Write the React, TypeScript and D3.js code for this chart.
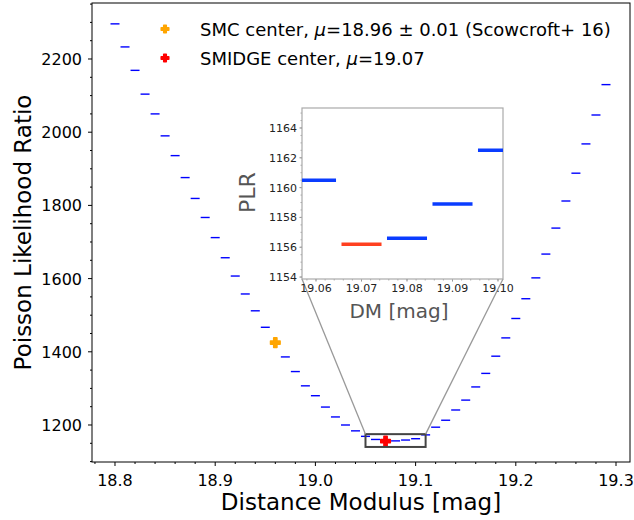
import React from 'react';
import * as d3 from 'd3';

// ---- data ----
const dmValues = [
  18.80, 18.81, 18.82, 18.83, 18.84, 18.85, 18.86, 18.87, 18.88, 18.89,
  18.90, 18.91, 18.92, 18.93, 18.94, 18.95, 18.96, 18.97, 18.98, 18.99,
  19.00, 19.01, 19.02, 19.03, 19.04, 19.05, 19.06, 19.07, 19.08, 19.09,
  19.10, 19.11, 19.12, 19.13, 19.14, 19.15, 19.16, 19.17, 19.18, 19.19,
  19.20, 19.21, 19.22, 19.23, 19.24, 19.25, 19.26, 19.27, 19.28, 19.29,
];
const plrValues = [
  2296, 2233, 2169, 2104, 2050, 1990, 1936, 1876, 1819, 1767,
  1712, 1657, 1607, 1558, 1512, 1467, 1425, 1386, 1346, 1307,
  1280, 1249, 1222, 1200, 1184, 1169, 1160.5, 1156.2, 1156.6, 1158.9,
  1162.5, 1173, 1194, 1213, 1241, 1268, 1304, 1341, 1388, 1438,
  1491, 1545, 1602, 1667, 1738, 1812, 1888, 1968, 2047, 2130,
];
const smcCenter = [18.96, 1425];
const smidgeCenter = [19.07, 1156];
const xTickValues = [18.8, 18.9, 19.0, 19.1, 19.2, 19.3];
const yTickValues = [1200, 1400, 1600, 1800, 2000, 2200];
const insetXTickValues = [19.06, 19.07, 19.08, 19.09, 19.10];
const insetYTickValues = [1154, 1156, 1158, 1160, 1162, 1164];
const zoomBoxX = [19.05, 19.11];
const zoomBoxY = [1140, 1175];
const legendLabels = [
  { pre: 'SMC center, ', post: '=18.96 ± 0.01 (Scowcroft+ 16)', color: '#ffa500' },
  { pre: 'SMIDGE center, ', post: '=19.07', color: '#ff0000' },
];

// ---- layout ----
const W = 634, H = 520;
const P = { l: 92, r: 630, t: 3, b: 462 };
const I = { l: 302, r: 503, t: 108, b: 279 };
const FONT = '"DejaVu Sans", sans-serif';

const x = d3.scaleLinear().domain([18.77705, 19.31397]).range([P.l, P.r]);
const y = d3.scaleLinear().domain([1098.9, 2353]).range([P.b, P.t]);
const ix = d3.scaleLinear().domain([19.05692, 19.1011]).range([I.l, I.r]);
const iy = d3.scaleLinear().domain([1153.87, 1165.34]).range([I.b, I.t]);

function plusPath(cx: number, cy: number, s: number) {
  const a = s / 2, b = s / 6;
  return `M${cx - b},${cy - a}H${cx + b}V${cy - b}H${cx + a}V${cy + b}H${cx + b}V${cy + a}H${cx - b}V${cy + b}H${cx - a}V${cy - b}H${cx - b}Z`;
}

export default function App() {
  const xMinor = d3.range(18.78, 19.315, 0.02).filter(v => xTickValues.every(t => Math.abs(t - v) > 1e-6));
  const yMinor = d3.range(1100, 2351, 50).filter(v => yTickValues.every(t => Math.abs(t - v) > 1e-6));
  const ixMinor = d3.range(19.058, 19.1011, 0.002);
  const iyMinor = d3.range(1154, 1165.3, 0.5);
  const insetIdx = dmValues.map((d, i) => i).filter(i => dmValues[i] > 19.055 && dmValues[i] < 19.105);
  const bw = 0.0044;

  return (
    <svg width={W} height={H} style={{ position: 'absolute', left: 0, top: 0, background: '#fff' }} fontFamily={FONT}>
      <rect x={0} y={0} width={W} height={H} fill="#fff" />
      <defs>
        <clipPath id="mainClip"><rect x={P.l} y={P.t} width={P.r - P.l} height={P.b - P.t} /></clipPath>
        <clipPath id="insetClip"><rect x={I.l} y={I.t} width={I.r - I.l} height={I.b - I.t} /></clipPath>
      </defs>

      {/* main data dashes */}
      <g clipPath="url(#mainClip)">
        {dmValues.map((d, i) => (
          <line key={i} x1={x(d) - 4.5} x2={x(d) + 4.5} y1={y(plrValues[i])} y2={y(plrValues[i])} stroke="#0000ff" strokeWidth={1.4} />
        ))}
        <path d={plusPath(x(smcCenter[0]), y(smcCenter[1]), 9.5)} fill="#ffa500" stroke="#ffa500" strokeWidth={1.6} strokeLinejoin="round" />
        <path d={plusPath(x(smidgeCenter[0]), y(smidgeCenter[1]), 9.5)} fill="#ff0000" stroke="#ff0000" strokeWidth={1.6} strokeLinejoin="round" />
        <rect x={x(zoomBoxX[0])} y={y(zoomBoxY[1])} width={x(zoomBoxX[1]) - x(zoomBoxX[0])} height={y(zoomBoxY[0]) - y(zoomBoxY[1])}
          fill="none" stroke="#444" strokeWidth={2} />
        <line x1={I.l} y1={I.b} x2={x(zoomBoxX[0])} y2={y(zoomBoxY[1])} stroke="#999" strokeWidth={1.3} />
        <line x1={I.r} y1={I.b} x2={x(zoomBoxX[1])} y2={y(zoomBoxY[1])} stroke="#999" strokeWidth={1.3} />
      </g>

      {/* main frame */}
      <rect x={P.l} y={P.t} width={P.r - P.l} height={P.b - P.t} fill="none" stroke="#000" strokeWidth={1} />

      {/* axes ticks */}
      {xTickValues.map(v => (
        <g key={v}>
          <line x1={x(v)} x2={x(v)} y1={P.b} y2={P.b + 4} stroke="#000" />
          <text x={x(v)} y={P.b + 24} fontSize={16} textAnchor="middle" fill="#000">{v.toFixed(1)}</text>
        </g>
      ))}
      {xMinor.map(v => <line key={v} x1={x(v)} x2={x(v)} y1={P.b} y2={P.b + 2} stroke="#000" />)}
      {yTickValues.map(v => (
        <g key={v}>
          <line x1={P.l - 4} x2={P.l} y1={y(v)} y2={y(v)} stroke="#000" />
          <text x={P.l - 10} y={y(v) + 6} fontSize={16} textAnchor="end" fill="#000">{v}</text>
        </g>
      ))}
      {yMinor.map(v => <line key={v} x1={P.l - 2} x2={P.l} y1={y(v)} y2={y(v)} stroke="#000" />)}

      <text x={(P.l + P.r) / 2} y={510} fontSize={23} textAnchor="middle" fill="#000">Distance Modulus [mag]</text>
      <text transform={`translate(31,${(P.t + P.b) / 2}) rotate(-90)`} fontSize={23} textAnchor="middle" fill="#000">Poisson Likelihood Ratio</text>

      {/* legend */}
      {legendLabels.map((l, i) => (
        <g key={i}>
          <path d={plusPath(165, 29 + i * 29, 7.5)} fill={l.color} stroke={l.color} strokeWidth={1.6} strokeLinejoin="round" />
          <text x={200} y={35.5 + i * 29} fontSize={18} fill="#000">
            {l.pre}<tspan fontStyle="italic">μ</tspan>{l.post}
          </text>
        </g>
      ))}

      {/* inset */}
      <rect x={I.l} y={I.t} width={I.r - I.l} height={I.b - I.t} fill="#fff" stroke="#aaa" strokeWidth={1.2} />
      <g clipPath="url(#insetClip)">
        {insetIdx.map(i => (
          <line key={i} x1={ix(dmValues[i] - bw)} x2={ix(dmValues[i] + bw)} y1={iy(plrValues[i])} y2={iy(plrValues[i])}
            stroke={Math.abs(dmValues[i] - smidgeCenter[0]) < 1e-6 ? '#ff4020' : '#0a3cff'} strokeWidth={3.5} />
        ))}
      </g>
      {insetXTickValues.map(v => (
        <g key={v}>
          <line x1={ix(v)} x2={ix(v)} y1={I.b} y2={I.b + 2.5} stroke="#888" />
          <text x={ix(v)} y={I.b + 13} fontSize={11} textAnchor="middle" fill="#222">{v.toFixed(2)}</text>
        </g>
      ))}
      {ixMinor.map(v => <line key={v} x1={ix(v)} x2={ix(v)} y1={I.b} y2={I.b + 1.5} stroke="#aaa" />)}
      {insetYTickValues.map(v => (
        <g key={v}>
          <line x1={I.l - 2.5} x2={I.l} y1={iy(v)} y2={iy(v)} stroke="#888" />
          <text x={I.l - 5} y={iy(v) + 4} fontSize={11} textAnchor="end" fill="#222">{v}</text>
        </g>
      ))}
      {iyMinor.map(v => <line key={v} x1={I.l - 1.5} x2={I.l} y1={iy(v)} y2={iy(v)} stroke="#aaa" />)}
      <text transform={`translate(255,192.5) rotate(-90)`} fontSize={22} textAnchor="middle" fill="#555">PLR</text>
      <text x={399} y={318} fontSize={20} textAnchor="middle" fill="#555">DM [mag]</text>
    </svg>
  );
}
